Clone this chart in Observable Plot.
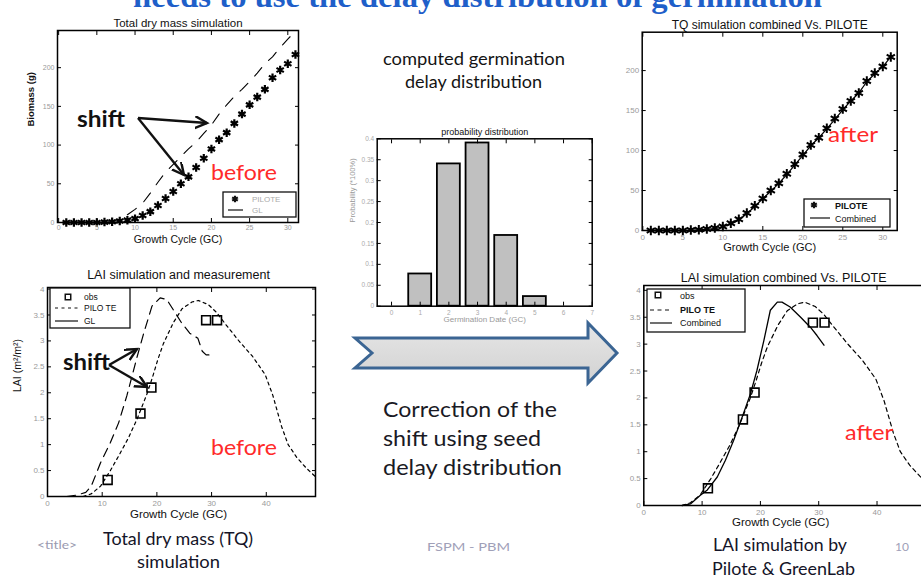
<!DOCTYPE html>
<html><head><meta charset="utf-8">
<script src="https://cdn.jsdelivr.net/npm/d3@7"></script>
<script src="https://cdn.jsdelivr.net/npm/@observablehq/plot@0.6"></script>
<style>
html,body{margin:0;padding:0;background:#fff;}
body{width:921px;height:579px;overflow:hidden;position:relative;font-family:"Liberation Sans",Arial,sans-serif;}
.chart{position:absolute;}
#overlay{position:absolute;left:0;top:0;pointer-events:none;}
</style></head><body>
<script>
// ---------- data ----------
const tqCycle   = [1,2,3,4,5,6,7,8,9,10,11,12,13,14,15,16,17,18,19,20,21,22,23,24,25,26,27,28,29,30,31];
const tqPilote  = [0,0,0,0,0,0.5,1,2,3,5,9,14,22,31,40,50,59,71,83,95,107,116,128,140,152,162,172,187,197,205,217];
const tqGL      = [0,0,0,0,0,0.5,1,3,10,17,25,38,52,65,75,85,95,104,115,126,140,152,163,172,182,193,205,214,226,237,247];
const tqCombined= [0,0,0,0,0,0.3,0.8,1.5,2.5,4.5,8,13,21,30,40,49,59,70,82,94,106,116,127,139,151,162,172,186,196,205,217];

const laiPiloteX = [6.5,8,9.7,11.5,13,14.8,16.4,18.2,19.2,20.2,21.2,23,24.6,26.4,27.6,29.4,30.9,32.5,35,37.5,39.8,41.2,42.8,44,45.6,47.3,49];
const laiPiloteY = [0,0.05,0.2,0.5,0.78,1.13,1.5,1.98,2.3,2.65,2.95,3.35,3.62,3.75,3.78,3.7,3.55,3.33,3.0,2.7,2.35,1.95,1.35,1.0,0.75,0.55,0.38];
const laiGLX = [3.5,5.5,7,8,9.7,11.5,13,14.5,16.4,17.6,19.1,20.6,21.8,23,24.5,26,27.5,28.3,29,30.5];
const laiGLY = [0,0.03,0.08,0.2,0.65,1.04,1.42,1.94,2.7,3.15,3.67,3.83,3.8,3.6,3.35,3.15,3.05,2.8,2.73,2.73];
const laiCombX = [6.6,8,9.7,10.9,12.6,14,15.4,17.1,18.3,19.4,20.6,21.7,22.9,23.7,25.1,26.9,28.6,29.7,30.9];
const laiCombY = [0,0.03,0.19,0.29,0.53,0.84,1.21,1.71,2.08,2.51,3.07,3.63,3.78,3.78,3.69,3.5,3.31,3.16,2.98];
const obsX = [11,17,19,29,31];
const obsY = [0.32,1.6,2.1,3.4,3.4];

const germDate = [1,2,3,4,5];
const germProb = [0.077,0.34,0.39,0.169,0.023];

const tqXTicks = [0,5,10,15,20,25,30];
const tqYTicks = [0,50,100,150,200];
const laiXTicks = [0,10,20,30,40];
const laiYTicks = [0,0.5,1,1.5,2,2.5,3,3.5,4];
const germXTicks = [0,1,2,3,4,5,6,7];
const germYTicks = [0,0.05,0.1,0.15,0.2,0.25,0.3,0.35,0.4];

// ---------- tables ----------
const tq = tqCycle.map((c,i)=>({c, pilote:tqPilote[i], gl:tqGL[i], comb:tqCombined[i]}));
const laiP = laiPiloteX.map((x,i)=>({x, y:laiPiloteY[i]}));
const laiG = laiGLX.map((x,i)=>({x, y:laiGLY[i]}));
const laiC = laiCombX.map((x,i)=>({x, y:laiCombY[i]}));
const obs = obsX.map((x,i)=>({x, y:obsY[i]}));
const germ = germDate.map((d,i)=>({d, p:germProb[i]}));

function chart(o){
  const marks = [
    ...o.marks,
    Plot.frame({stroke:"#000", strokeWidth:1.5}),
    Plot.axisX(o.xTicks, {anchor:"bottom", tickSize:-4, tickPadding:o.xPad||8, fill:o.tickColor||"#9a9a9a", stroke:"#000", fontSize:o.tickFont||8, tickFormat:d=>String(d), label:null}),
    Plot.axisX(o.xTicks, {anchor:"top", tickSize:-4, tickFormat:()=>"", stroke:"#000", label:null}),
    Plot.axisY(o.yTicks, {anchor:"left", tickSize:-4, tickPadding:7, fill:o.tickColor||"#9a9a9a", stroke:"#000", fontSize:o.tickFont||8, tickFormat:d=>String(d), label:null}),
    Plot.axisY(o.yTicks, {anchor:"right", tickSize:-4, tickFormat:()=>"", stroke:"#000", label:null}),
  ];
  if (o.title) marks.push(Plot.text([o.title], {frameAnchor:"top", dy:o.titleDy, dx:o.titleDx||0, fontSize:o.titleSize, fill:"#111"}));
  if (o.xlabel) marks.push(Plot.text([o.xlabel], {frameAnchor:"bottom", dy:o.xlabelDy, dx:o.xlabelDx||0, fontSize:o.xlabelSize, fill:o.xlabelColor||"#111", fontWeight:o.xlabelWeight||"normal"}));
  if (o.ylabel) marks.push(Plot.text([o.ylabel], {frameAnchor:"left", dx:o.ylabelDx, rotate:-90, fontSize:o.ylabelSize, fill:o.ylabelColor||"#111", fontWeight:o.ylabelWeight||"normal"}));
  const p = Plot.plot({
    width:o.width, height:o.height,
    marginTop:o.m[0], marginRight:o.m[1], marginBottom:o.m[2], marginLeft:o.m[3],
    x:{domain:o.xDomain}, y:{domain:o.yDomain},
    style:{fontFamily:"'Liberation Sans', Arial, sans-serif", background:"transparent", overflow:"visible", color:"#000"},
    marks
  });
  p.classList.add("chart");
  p.style.left = o.left+"px"; p.style.top = o.top+"px";
  document.body.appendChild(p);
}

// Chart 1: Total dry mass simulation
chart({left:0, top:0, width:310, height:250, m:[30,12,28,57],
  xDomain:[-0.15,31.4], yDomain:[0,248], xTicks:tqXTicks, yTicks:tqYTicks, tickFont:7, xPad:7,
  title:"Total dry mass simulation", titleDy:-12, titleSize:11.5,
  xlabel:"Growth Cycle (GC)", xlabelDy:20, xlabelSize:10.5,
  ylabel:"Biomass (g)", ylabelDx:-27, ylabelSize:9.5, ylabelWeight:"bold",
  marks:[
    Plot.line(tq, {x:"c", y:"gl", stroke:"#000", strokeWidth:1.1, strokeDasharray:"11,10"}),
    Plot.dot(tq, {x:"c", y:"pilote", symbol:"asterisk", r:4, stroke:"#000", strokeWidth:2.2}),
  ]});

// Chart 2: LAI simulation and measurement
chart({left:0, top:255, width:320, height:280, m:[32,5,39,47],
  xDomain:[0,49], yDomain:[0,4.03], xTicks:laiXTicks, yTicks:laiYTicks,
  title:"LAI simulation and measurement", titleDy:-17, titleDx:-3, titleSize:12.5,
  xlabel:"Growth Cycle (GC)", xlabelDy:21, xlabelDx:-3, xlabelSize:11.5,
  ylabel:"LAI (m²/m²)", ylabelDx:-30, ylabelSize:10.5,
  marks:[
    Plot.line(laiG, {x:"x", y:"y", stroke:"#000", strokeWidth:1.2, strokeDasharray:"9,6"}),
    Plot.line(laiP, {x:"x", y:"y", stroke:"#000", strokeWidth:1.2, strokeDasharray:"3,3.5"}),
    Plot.dot(obs, {x:"x", y:"y", symbol:"square", r:5, stroke:"#000", strokeWidth:1.6, fill:"none"}),
  ]});

// Chart 3: probability distribution
chart({left:330, top:110, width:280, height:220, m:[28.3,18.3,24.3,46.7],
  xDomain:[-0.5,7], yDomain:[0,0.4], xTicks:germXTicks, yTicks:germYTicks, tickFont:6.5, tickColor:"#aaa",
  title:"probability distribution", titleDy:-10, titleSize:9,
  xlabel:"Germination Date (GC)", xlabelDy:16, xlabelSize:8, xlabelColor:"#999",
  ylabel:"Probability (*100%)", ylabelDx:-25, ylabelSize:7.5, ylabelColor:"#999",
  marks:[
    Plot.rectY(germ, {x1:d=>d.d-0.4, x2:d=>d.d+0.4, y1:0, y2:"p", fill:"#c0c0c0", stroke:"#000", strokeWidth:1.8}),
  ]});

// Chart 4: TQ simulation combined Vs. PILOTE
chart({left:610, top:0, width:311, height:260, m:[31.7,24.3,30,31.7],
  xDomain:[-0.08,31.8], yDomain:[0,248], xTicks:tqXTicks, yTicks:tqYTicks,
  title:"TQ simulation combined Vs. PILOTE", titleDy:-12, titleSize:12,
  xlabel:"Growth Cycle (GC)", xlabelDy:20, xlabelSize:11,
  marks:[
    Plot.line(tq, {x:"c", y:"comb", stroke:"#000", strokeWidth:1.2}),
    Plot.dot(tq, {x:"c", y:"pilote", symbol:"asterisk", r:4.5, stroke:"#000", strokeWidth:2}),
  ]});

// Chart 5: LAI simulation combined Vs. PILOTE
chart({left:610, top:260, width:330, height:280, m:[25,11,35,33.3],
  xDomain:[0,49], yDomain:[0,4.09], xTicks:laiXTicks, yTicks:laiYTicks,
  title:"LAI simulation combined Vs. PILOTE", titleDy:-12, titleDx:-3, titleSize:12.5,
  xlabel:"Growth Cycle (GC)", xlabelDy:20, xlabelDx:-6, xlabelSize:11.5,
  marks:[
    Plot.line(laiC, {x:"x", y:"y", stroke:"#000", strokeWidth:1.3}),
    Plot.line(laiP, {x:"x", y:"y", stroke:"#000", strokeWidth:1.2, strokeDasharray:"4,3.5"}),
    Plot.dot(obs, {x:"x", y:"y", symbol:"square", r:5, stroke:"#000", strokeWidth:1.6, fill:"none"}),
  ]});

// ---------- slide decorations (overlay) ----------
const star = (s)=>d3.symbol(d3.symbolAsterisk, s)();
const sq = (s)=>d3.symbol(d3.symbolSquare, s)();
const F = "Lato, 'Open Sans', sans-serif";
const ov = `
<svg id="overlay" width="921" height="579" xmlns="http://www.w3.org/2000/svg">
<defs>
 <linearGradient id="ag" x1="0" y1="0" x2="0" y2="1">
  <stop offset="0" stop-color="#e6e6e6"/><stop offset="1" stop-color="#d2d2d2"/>
 </linearGradient>
 <marker id="ah" markerUnits="userSpaceOnUse" markerWidth="16" markerHeight="16" refX="12" refY="6" orient="auto">
  <path d="M0,0 L12,6 L0,12" fill="none" stroke="#111" stroke-width="2.4"/>
 </marker>
</defs>
<text x="133" y="7" font-family="'Liberation Serif', serif" font-weight="bold" font-size="31" fill="#1f5fc9" textLength="689" lengthAdjust="spacingAndGlyphs">needs to use the delay distribution of germination</text>

<polygon points="355,338 588,338 588,323 617,353 588,383 588,368 355,368 372,353" fill="url(#ag)" stroke="#3b6593" stroke-width="3" stroke-linejoin="miter"/>

<line x1="138" y1="118" x2="207" y2="123" stroke="#111" stroke-width="2.4" marker-end="url(#ah)"/>
<line x1="138" y1="118" x2="184" y2="175" stroke="#111" stroke-width="2.4" marker-end="url(#ah)"/>
<line x1="109" y1="365" x2="137" y2="349" stroke="#111" stroke-width="2.4" marker-end="url(#ah)"/>
<line x1="109" y1="365" x2="147" y2="387" stroke="#111" stroke-width="2.4" marker-end="url(#ah)"/>

<g font-family="${F}">
 <text x="77" y="127" font-size="22" font-weight="bold" fill="#111" textLength="48" lengthAdjust="spacingAndGlyphs">shift</text>
 <text x="63" y="370" font-size="22" font-weight="bold" fill="#111" textLength="47" lengthAdjust="spacingAndGlyphs">shift</text>
 <text x="211" y="180" font-size="22" fill="#ff2a2a" textLength="66" lengthAdjust="spacingAndGlyphs">before</text>
 <text x="211" y="455" font-size="22" fill="#ff2a2a" textLength="66" lengthAdjust="spacingAndGlyphs">before</text>
 <text x="828" y="142" font-size="22" fill="#ff2a2a" textLength="50" lengthAdjust="spacingAndGlyphs">after</text>
 <text x="845" y="440" font-size="22" fill="#ff2a2a" textLength="48" lengthAdjust="spacingAndGlyphs">after</text>

 <text x="383" y="65" font-size="17" fill="#141414" textLength="182" lengthAdjust="spacingAndGlyphs">computed  germination</text>
 <text x="405" y="88" font-size="17" fill="#141414" textLength="137" lengthAdjust="spacingAndGlyphs">delay distribution</text>

 <text x="383" y="417" font-size="22" fill="#1a1a24" textLength="174" lengthAdjust="spacingAndGlyphs">Correction of the</text>
 <text x="383" y="446" font-size="22" fill="#1a1a24" textLength="158" lengthAdjust="spacingAndGlyphs">shift using  seed</text>
 <text x="383" y="475" font-size="22" fill="#1a1a24" textLength="179" lengthAdjust="spacingAndGlyphs">delay distribution</text>

 <text x="37" y="549" font-size="12" fill="#9a9ab0" textLength="40" lengthAdjust="spacingAndGlyphs">&lt;title&gt;</text>
 <text x="103" y="545" font-size="17" fill="#141428" textLength="150" lengthAdjust="spacingAndGlyphs">Total dry mass (TQ)</text>
 <text x="137" y="568" font-size="17" fill="#141428" textLength="83" lengthAdjust="spacingAndGlyphs">simulation</text>
 <text x="427" y="551" font-size="12" fill="#a0a0b8" textLength="83" lengthAdjust="spacingAndGlyphs">FSPM - PBM</text>
 <text x="713" y="551" font-size="17" fill="#141428" textLength="134" lengthAdjust="spacingAndGlyphs">LAI simulation by</text>
 <text x="712" y="575" font-size="17" fill="#141428" textLength="143" lengthAdjust="spacingAndGlyphs">Pilote &amp; GreenLab</text>
 <text x="895" y="551" font-size="12" fill="#a0a0b8">10</text>
</g>

<g font-family="'Liberation Sans', Arial, sans-serif">
 <rect x="223" y="192" width="73" height="25" fill="#fff" stroke="#111" stroke-width="1.3"/>
 <path d="${star(30)}" transform="translate(235,199)" stroke="#111" stroke-width="2.2"/>
 <line x1="228" y1="210" x2="243" y2="210" stroke="#111" stroke-width="1.2"/>
 <text x="252" y="202" font-size="8" fill="#aaa">PILOTE</text>
 <text x="252" y="213" font-size="8" fill="#aaa">GL</text>

 <rect x="50" y="288" width="80" height="40" fill="#fff" stroke="#111" stroke-width="1.3"/>
 <path d="${sq(30)}" transform="translate(68,297)" fill="none" stroke="#111" stroke-width="1.5"/>
 <line x1="55" y1="308" x2="78" y2="308" stroke="#111" stroke-width="1.2" stroke-dasharray="3,3.5"/>
 <line x1="55" y1="321" x2="78" y2="321" stroke="#111" stroke-width="1.2"/>
 <text x="84" y="300" font-size="8.5" fill="#111">obs</text>
 <text x="84" y="311" font-size="8.5" fill="#111">PILO TE</text>
 <text x="84" y="324" font-size="8.5" fill="#111">GL</text>

 <rect x="804" y="199" width="86" height="28" fill="#fff" stroke="#111" stroke-width="1.3"/>
 <path d="${star(30)}" transform="translate(814,205)" stroke="#111" stroke-width="2.2"/>
 <line x1="810" y1="218" x2="830" y2="218" stroke="#111" stroke-width="1.2"/>
 <text x="835" y="208.5" font-size="9" fill="#111" font-weight="bold">PILOTE</text>
 <text x="835" y="221.5" font-size="9" fill="#111">Combined</text>

 <rect x="647" y="289" width="98" height="43" fill="#fff" stroke="#111" stroke-width="1.3"/>
 <path d="${sq(30)}" transform="translate(658,295)" fill="none" stroke="#111" stroke-width="1.5"/>
 <line x1="650" y1="310" x2="672" y2="310" stroke="#111" stroke-width="1.2" stroke-dasharray="4,3.5"/>
 <line x1="650" y1="323" x2="672" y2="323" stroke="#111" stroke-width="1.2"/>
 <text x="680" y="298.5" font-size="9" fill="#111">obs</text>
 <text x="680" y="313" font-size="9" fill="#111" font-weight="bold">PILO TE</text>
 <text x="680" y="326" font-size="9" fill="#111">Combined</text>
</g>
</svg>`;
document.body.insertAdjacentHTML("beforeend", ov);
</script>
</body></html>
